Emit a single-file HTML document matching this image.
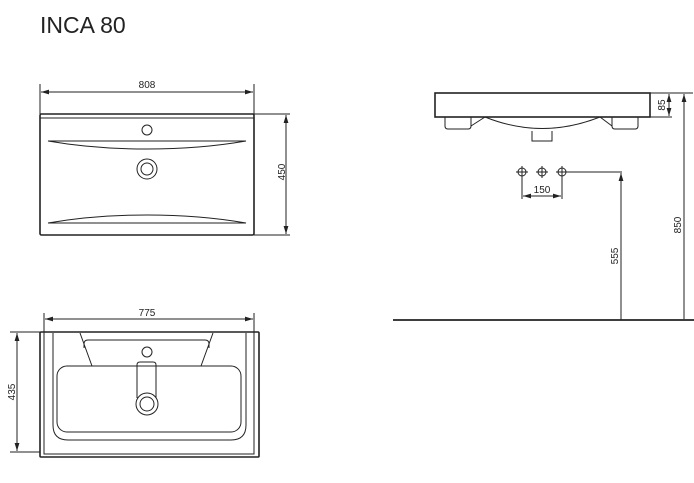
<!DOCTYPE html>
<html><head><style>body{margin:0;background:#fff}svg{display:block}text{font-family:"Liberation Sans",sans-serif;fill:#222}</style></head><body>
<svg width="694" height="483" viewBox="0 0 694 483" xmlns="http://www.w3.org/2000/svg">
<defs><marker id="a" viewBox="0 0 10 6" refX="10" refY="3" markerWidth="8" markerHeight="5" orient="auto-start-reverse"><path d="M0,0L10,3L0,6z" fill="#222"/></marker></defs>
<text x="40" y="33" font-size="23">INCA 80</text>
<g stroke="#222" fill="none" stroke-width="1">
<!-- top view -->
<line x1="40" y1="84" x2="40" y2="114"/><line x1="254" y1="84" x2="254" y2="114"/>
<line x1="41" y1="92" x2="253" y2="92" marker-start="url(#a)" marker-end="url(#a)"/>
<rect x="40" y="114" width="214" height="121" rx="1.5" stroke-width="1.6"/>
<line x1="40" y1="118" x2="254" y2="118"/>
<circle cx="147" cy="130" r="5"/>
<circle cx="147" cy="169" r="10"/><circle cx="147" cy="169" r="6"/>
<path d="M48,141 L246,141 Q200,149 147,149 Q94,149 48,141z"/>
<path d="M48,223 L246,223 Q200,215 147,215 Q94,215 48,223z"/>
<line x1="254" y1="114" x2="290" y2="114"/><line x1="254" y1="235" x2="290" y2="235"/>
<line x1="286" y1="115" x2="286" y2="234" marker-start="url(#a)" marker-end="url(#a)"/>
<!-- bottom view -->
<line x1="44" y1="313" x2="44" y2="333"/><line x1="254" y1="313" x2="254" y2="333"/>
<line x1="45" y1="319" x2="253" y2="319" marker-start="url(#a)" marker-end="url(#a)"/>
<rect x="40" y="332" width="219" height="125" rx="1" stroke-width="1.6"/>
<path d="M44,333 V454 H254 V333"/>
<path d="M53,333 V425 Q53,440 68,440 H231 Q246,440 246,425 V333"/>
<rect x="57" y="366" width="184" height="66" rx="10"/>
<path d="M80,333 L92,366 M213,333 L201,366"/>
<path d="M84,348 V344 Q84,340 88,340 H205 Q209,340 209,344 V348"/>
<circle cx="147" cy="352" r="5"/>
<path d="M137,398 V365 Q137,362 140,362 H153 Q156,362 156,365 V398"/>
<circle cx="147" cy="404" r="11" fill="#fff"/><circle cx="147" cy="404" r="7"/>
<line x1="10" y1="332" x2="40" y2="332"/><line x1="10" y1="452" x2="40" y2="452"/>
<line x1="17" y1="333" x2="17" y2="451" marker-start="url(#a)" marker-end="url(#a)"/>
<!-- side view -->
<rect x="435" y="93" width="215" height="24" stroke-width="1.6"/>
<path d="M445,117 V126 Q445,129 448,129 H468 Q471,129 471,126 V117"/>
<path d="M471,126 L485,117 M612,126 L600,117"/>
<path d="M612,117 V126 Q612,129 615,129 H635 Q638,129 638,126 V117"/>
<path d="M485,117 Q542,140 600,117"/>
<path d="M532,131 V141 H552 V131"/>
<line x1="650" y1="93" x2="693" y2="93"/><line x1="650" y1="117" x2="672" y2="117"/>
<line x1="669" y1="94" x2="669" y2="116" marker-start="url(#a)" marker-end="url(#a)"/>
<line x1="684" y1="94" x2="684" y2="319" marker-start="url(#a)"/>
<circle cx="522" cy="172" r="4"/><circle cx="542" cy="172" r="4"/><circle cx="562" cy="172" r="4"/>
<path d="M516,172H528M522,166V178M536,172H548M542,166V178M556,172H568M562,166V178"/>
<line x1="566" y1="172" x2="622" y2="172"/>
<line x1="621" y1="173" x2="621" y2="320" marker-start="url(#a)"/>
<line x1="522" y1="176" x2="522" y2="199"/><line x1="562" y1="176" x2="562" y2="199"/>
<line x1="523" y1="196" x2="561" y2="196" marker-start="url(#a)" marker-end="url(#a)"/>
<line x1="393" y1="320" x2="694" y2="320" stroke-width="1.8"/>
</g>
<g font-size="10">
<text x="147" y="88" text-anchor="middle">808</text>
<text x="147" y="316" text-anchor="middle">775</text>
<text x="542" y="193" text-anchor="middle">150</text>
<text transform="translate(285,172) rotate(-90)" text-anchor="middle">450</text>
<text transform="translate(15,392) rotate(-90)" text-anchor="middle">435</text>
<text transform="translate(665,105) rotate(-90)" text-anchor="middle">85</text>
<text transform="translate(681,225) rotate(-90)" text-anchor="middle">850</text>
<text transform="translate(618,256) rotate(-90)" text-anchor="middle">555</text>
</g>
</svg>
</body></html>
